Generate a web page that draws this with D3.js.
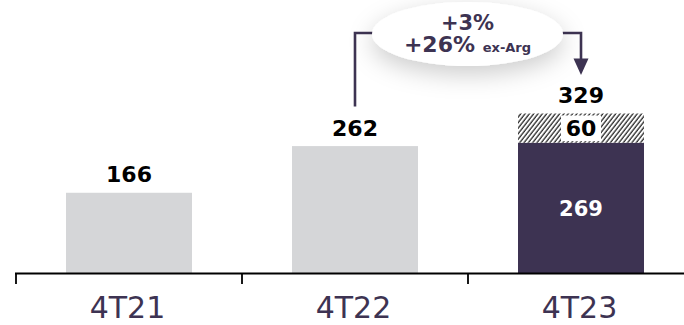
<!DOCTYPE html>
<html>
<head>
<meta charset="utf-8">
<script src="https://cdn.jsdelivr.net/npm/d3@7"></script>
<style>
  html, body { margin: 0; padding: 0; background: #fff; }
  svg { display: block; font-family: "DejaVu Sans", Verdana, sans-serif; }
</style>
</head>
<body>
<svg id="chart" width="684" height="325"></svg>
<script>
// Quarterly figures: reported part and the stacked add-on
const categories = ["4T21", "4T22", "4T23"];
const baseValues = [166, 262, 269];
const extraValues = [0, 0, 60];
const calloutLines = ["+3%", "+26%"];
const calloutNote = "ex-Arg";

const W = 684, H = 325;
const purple = "#3d3352";
const grey = "#d5d6d8";

const svg = d3.select("#chart");
const defs = svg.append("defs");

// diagonal hatch for the add-on segment
const pat = defs.append("pattern")
  .attr("id", "hatch")
  .attr("patternUnits", "userSpaceOnUse")
  .attr("width", 3.4).attr("height", 4)
  .attr("patternTransform", "rotate(38)");
pat.append("rect").attr("width", 3.4).attr("height", 4).attr("fill", "#fff");
pat.append("line").attr("x1", 1).attr("y1", 0).attr("x2", 1).attr("y2", 4)
  .attr("stroke", "#000").attr("stroke-width", 1.1);

// soft shadow under the callout bubble
const f = defs.append("filter").attr("id", "glow")
  .attr("x", "-50%").attr("y", "-80%").attr("width", "200%").attr("height", "280%");
f.append("feDropShadow").attr("dx", 0).attr("dy", 8).attr("stdDeviation", 12)
  .attr("flood-color", "#000").attr("flood-opacity", 0.2);

const x = d3.scaleBand().domain(categories).range([16, 694])
  .paddingInner(0.4425).paddingOuter(0.22125);
const xb = d3.scaleBand().domain(categories).range([16, 694]).padding(0);
const y = d3.scaleLinear().domain([0, 329]).range([273.5, 113.5]);

const data = categories.map((c, i) => ({
  cat: c, base: baseValues[i], extra: extraValues[i], total: baseValues[i] + extraValues[i], i
}));

// bars
svg.append("g").selectAll("rect").data(data).join("rect")
  .attr("x", d => x(d.cat))
  .attr("width", x.bandwidth())
  .attr("y", d => y(d.base))
  .attr("height", d => y(0) - y(d.base))
  .attr("fill", d => d.extra > 0 ? purple : grey);

// hatched add-on
const stacked = data.filter(d => d.extra > 0);
svg.append("g").selectAll("rect").data(stacked).join("rect")
  .attr("x", d => x(d.cat))
  .attr("width", x.bandwidth())
  .attr("y", d => y(d.total))
  .attr("height", d => y(d.base) - y(d.total))
  .attr("fill", "url(#hatch)");

// add-on value on a white patch
stacked.forEach(d => {
  const cx = x(d.cat) + x.bandwidth() / 2;
  const cy = (y(d.total) + y(d.base)) / 2;
  svg.append("rect").attr("x", cx - 20).attr("y", y(d.total) + 2)
    .attr("width", 40).attr("height", y(d.base) - y(d.total) - 3.5).attr("fill", "#fff");
  svg.append("text").attr("x", cx).attr("y", cy + 8)
    .attr("text-anchor", "middle").attr("font-size", 22).attr("font-weight", "bold")
    .attr("fill", "#000").text(d.extra);
  // reported value inside the dark bar
  svg.append("text").attr("x", cx).attr("y", (y(d.base) + y(0)) / 2 + 8)
    .attr("text-anchor", "middle").attr("font-size", 21).attr("font-weight", "bold")
    .attr("fill", "#fff").text(d.base);
});

// totals above bars
svg.append("g").selectAll("text").data(data).join("text")
  .attr("x", d => x(d.cat) + x.bandwidth() / 2)
  .attr("y", d => y(d.total) - 10.5)
  .attr("text-anchor", "middle").attr("font-size", 22).attr("font-weight", "bold")
  .attr("fill", "#000").text(d => d.total);

// axis with ticks on band boundaries
const axisY = 273.5;
const ax = svg.append("g");
ax.append("line").attr("x1", 15).attr("x2", W).attr("y1", axisY).attr("y2", axisY)
  .attr("stroke", "#000").attr("stroke-width", 2);
ax.selectAll("line.tick").data(categories).join("line").attr("class", "tick")
  .attr("x1", d => xb(d)).attr("x2", d => xb(d))
  .attr("y1", axisY).attr("y2", axisY + 10.5)
  .attr("stroke", "#000").attr("stroke-width", 1.8);
ax.selectAll("text").data(categories).join("text")
  .attr("x", d => xb(d) + xb.bandwidth() / 2 - 1.5)
  .attr("y", 317.8)
  .attr("text-anchor", "middle").attr("font-size", 30)
  .attr("fill", purple).text(d => d);

// growth callout between 4T22 and 4T23
const from = data[1], to = data[2];
const x0 = x(from.cat) + x.bandwidth() / 2;
const x1 = x(to.cat) + x.bandwidth() / 2;
const lineY = 33;
const ecx = 467.5, ecy = 34, erx = 95.5, ery = 32;
const tipY = y(to.total) - 38.5;

svg.append("path")
  .attr("d", `M${x0},${y(from.total) - 39.5} V${lineY} H${ecx - erx + 10}`)
  .attr("fill", "none").attr("stroke", purple).attr("stroke-width", 2.6);
svg.append("path")
  .attr("d", `M${ecx + erx - 10},${lineY} H${x1} V${tipY - 14}`)
  .attr("fill", "none").attr("stroke", purple).attr("stroke-width", 2.6);
svg.append("path")
  .attr("d", `M${x1 - 7.5},${tipY - 16.5} L${x1 + 7.5},${tipY - 16.5} L${x1},${tipY} Z`)
  .attr("fill", purple);

svg.append("ellipse").attr("cx", ecx).attr("cy", ecy).attr("rx", erx).attr("ry", ery)
  .attr("fill", "#fff").attr("filter", "url(#glow)");

svg.append("text").attr("x", ecx).attr("y", 29.5)
  .attr("text-anchor", "middle").attr("font-size", 21).attr("font-weight", "bold")
  .attr("fill", purple).text(calloutLines[0]);
const t2 = svg.append("text").attr("x", ecx).attr("y", 52)
  .attr("text-anchor", "middle").attr("font-weight", "bold").attr("fill", purple);
t2.append("tspan").attr("font-size", 22).text(calloutLines[1] + " ");
t2.append("tspan").attr("font-size", 13).text(calloutNote);
</script>
</body>
</html>
